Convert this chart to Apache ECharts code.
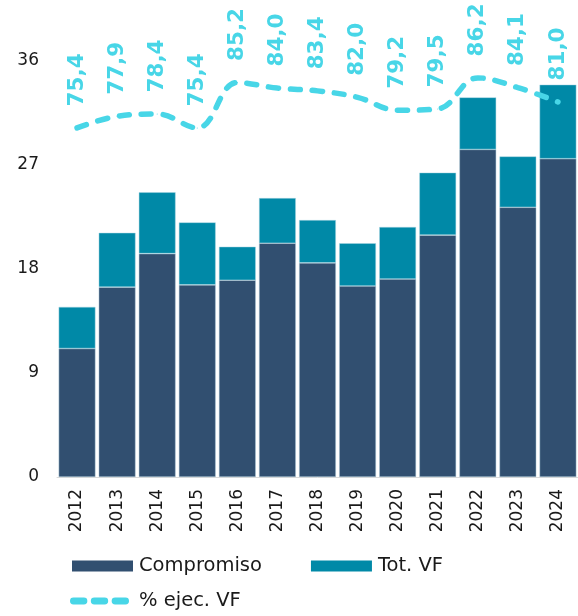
<!DOCTYPE html>
<html>
<head>
<meta charset="utf-8">
<script src="https://cdn.jsdelivr.net/npm/echarts@6/dist/echarts.min.js"></script>
<style>
  html, body { margin: 0; padding: 0; background: #fff; }
  #chart { width: 578px; height: 616px; }
</style>
</head>
<body>
<div id="chart"></div>
<script>
// Years on the category axis
const years = ['2012','2013','2014','2015','2016','2017','2018','2019','2020','2021','2022','2023','2024'];
// Committed amount (lower stack)
const compromiso = [11.1, 16.4, 19.3, 16.6, 17.0, 20.2, 18.5, 16.5, 17.1, 20.9, 28.3, 23.3, 27.5];
// Remaining part of total future commitments (upper stack)
const totVF = [3.6, 4.7, 5.3, 5.4, 2.9, 3.9, 3.7, 3.7, 4.5, 5.4, 4.5, 4.4, 6.4];
// Execution percentage, drawn on the hidden right axis
const ejecVF = [75.4, 77.9, 78.4, 75.4, 85.2, 84.0, 83.4, 82.0, 79.2, 79.5, 86.2, 84.1, 81.0];
// Tick labels of the left axis
const leftTicks = [0, 9, 18, 27, 36];

const FONT = 'DejaVu Sans';
const C_COMP = '#314F70';
const C_VF = '#0089A7';
const C_LINE = '#48D6E7';

const chart = echarts.init(document.getElementById('chart'), null, { renderer: 'canvas' });

const dashIcon = 'path://M3.5,0 H14 A3.5,3.5 0 0 1 14,7 H3.5 A3.5,3.5 0 0 1 3.5,0 Z ' +
  'M24.5,0 H35 A3.5,3.5 0 0 1 35,7 H24.5 A3.5,3.5 0 0 1 24.5,0 Z ' +
  'M45.5,0 H56 A3.5,3.5 0 0 1 56,7 H45.5 A3.5,3.5 0 0 1 45.5,0 Z';

chart.setOption({
  animation: false,
  backgroundColor: '#ffffff',
  textStyle: { fontFamily: FONT },
  grid: { left: 57, right: -1, top: 14, bottom: 139, containLabel: false },
  legend: [
    {
      data: [
        { name: 'Compromiso', icon: 'rect', itemStyle: { borderWidth: 0 } },
        { name: 'Tot. VF', icon: 'rect', itemStyle: { borderWidth: 0 } }
      ],
      left: 72, top: 556, padding: 0,
      itemWidth: 61, itemHeight: 11, itemGap: 49,
      textStyle: { fontFamily: FONT, fontSize: 19.5, color: '#1a1a1a', padding: [0, 0, 0, 1] }
    },
    {
      data: [{ name: '% ejec. VF', icon: dashIcon }],
      left: 70, top: 591, padding: 0,
      itemWidth: 59, itemHeight: 7,
      textStyle: { fontFamily: FONT, fontSize: 19.5, color: '#1a1a1a', padding: [0, 0, 0, 5] }
    }
  ],
  xAxis: {
    type: 'category',
    data: years,
    axisLine: { lineStyle: { color: '#d9d9d9', width: 1 } },
    axisTick: { show: false },
    axisLabel: { rotate: 90, fontSize: 17, color: '#1a1a1a', margin: 12, fontFamily: FONT }
  },
  yAxis: [
    {
      type: 'value', min: 0, max: 40, interval: 9,
      splitLine: { show: false },
      axisLine: { show: false },
      axisTick: { show: false },
      axisLabel: {
        fontSize: 17, color: '#1a1a1a', margin: 18, fontFamily: FONT,
        formatter: v => (leftTicks.indexOf(v) >= 0 ? String(v) : '')
      }
    },
    { type: 'value', min: 0, max: 100, show: false, splitLine: { show: false } }
  ],
  series: [
    {
      name: 'Compromiso', type: 'bar', stack: 'total', data: compromiso,
      barCategoryGap: '8%',
      itemStyle: { color: C_COMP, borderColor: 'rgba(170,200,215,0.8)', borderWidth: 0.6 }
    },
    {
      name: 'Tot. VF', type: 'bar', stack: 'total', data: totVF,
      barCategoryGap: '8%',
      itemStyle: { color: C_VF, borderColor: 'rgba(170,215,228,0.8)', borderWidth: 0.6 }
    },
    {
      name: '% ejec. VF', type: 'line', yAxisIndex: 1, data: ejecVF,
      smooth: 0.4,
      symbol: 'circle', symbolSize: 1,
      itemStyle: { color: C_LINE },
      lineStyle: { color: C_LINE, width: 5.5, type: [10, 12], cap: 'round' },
      label: {
        show: true, position: 'top', rotate: 90, align: 'left', verticalAlign: 'middle',
        distance: 21, color: C_LINE, fontWeight: 'bold', fontSize: 21.5, fontFamily: FONT,
        formatter: p => p.value.toFixed(1).replace('.', ',')
      }
    }
  ]
});
</script>
</body>
</html>
